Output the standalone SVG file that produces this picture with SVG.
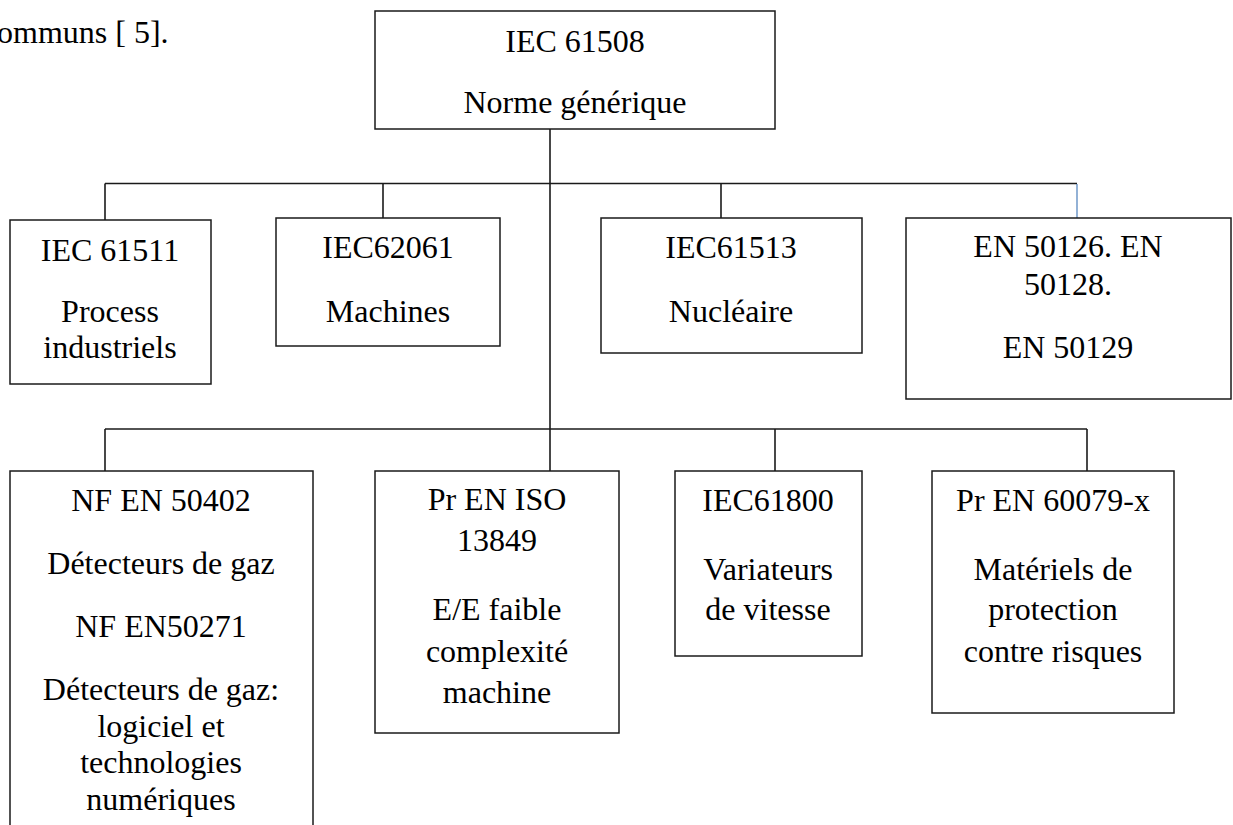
<svg xmlns="http://www.w3.org/2000/svg" width="1233" height="825" viewBox="0 0 1233 825">
  <style>
    .box { fill: #ffffff; stroke: #1a1a1a; stroke-width: 1.5; }
    .conn { stroke: #1a1a1a; stroke-width: 1.6; fill: none; }
    .blue { stroke: #4a7ebb; stroke-width: 1.2; fill: none; }
    text { font-family: "Liberation Serif", "Times New Roman", serif; font-size: 32px; fill: #000000; }
    .c { text-anchor: middle; }
  </style>
  <rect x="0" y="0" width="1233" height="825" fill="#ffffff"/>
  <text x="-3" y="43">ommuns [ 5].</text>

  <g id="connectors">
    <line class="conn" x1="550" y1="129" x2="550" y2="471"/>
    <line class="conn" x1="105" y1="183.5" x2="1077" y2="183.5"/>
    <line class="conn" x1="105" y1="183.5" x2="105" y2="220"/>
    <line class="conn" x1="383" y1="183.5" x2="383" y2="218"/>
    <line class="conn" x1="721" y1="183.5" x2="721" y2="218"/>
    <line class="blue" x1="1077" y1="184" x2="1077" y2="218"/>
    <line class="conn" x1="105" y1="429" x2="1087" y2="429"/>
    <line class="conn" x1="105" y1="429" x2="105" y2="471"/>
    <line class="conn" x1="775" y1="429" x2="775" y2="471"/>
    <line class="conn" x1="1087" y1="429" x2="1087" y2="471"/>
  </g>

  <g id="iec61508">
    <rect class="box" x="375" y="11" width="400" height="118"/>
    <text class="c" x="575" y="52">IEC 61508</text>
    <text class="c" x="575" y="113">Norme générique</text>
  </g>

  <g id="iec61511">
    <rect class="box" x="10" y="220" width="201" height="164"/>
    <text class="c" x="110" y="261">IEC 61511</text>
    <text class="c" x="110" y="322">Process</text>
    <text class="c" x="110" y="358">industriels</text>
  </g>

  <g id="iec62061">
    <rect class="box" x="276" y="218" width="224" height="128"/>
    <text class="c" x="388" y="258">IEC62061</text>
    <text class="c" x="388" y="322">Machines</text>
  </g>

  <g id="iec61513">
    <rect class="box" x="601" y="218" width="261" height="135"/>
    <text class="c" x="731" y="258">IEC61513</text>
    <text class="c" x="731" y="322">Nucléaire</text>
  </g>

  <g id="en50126">
    <rect class="box" x="906" y="218" width="325" height="181"/>
    <text class="c" x="1068" y="257">EN 50126. EN</text>
    <text class="c" x="1068" y="295">50128.</text>
    <text class="c" x="1068" y="358">EN 50129</text>
  </g>

  <g id="nfen50402">
    <rect class="box" x="10" y="471" width="303" height="370"/>
    <text class="c" x="161" y="511">NF EN 50402</text>
    <text class="c" x="161" y="574">Détecteurs de gaz</text>
    <text class="c" x="161" y="637">NF EN50271</text>
    <text class="c" x="161" y="700">Détecteurs de gaz:</text>
    <text class="c" x="161" y="737">logiciel et</text>
    <text class="c" x="161" y="773">technologies</text>
    <text class="c" x="161" y="810">numériques</text>
  </g>

  <g id="prenISO13849">
    <rect class="box" x="375" y="471" width="244" height="262"/>
    <text class="c" x="497" y="510">Pr EN ISO</text>
    <text class="c" x="497" y="551">13849</text>
    <text class="c" x="497" y="620">E/E faible</text>
    <text class="c" x="497" y="662">complexité</text>
    <text class="c" x="497" y="703">machine</text>
  </g>

  <g id="iec61800">
    <rect class="box" x="675" y="471" width="187" height="185"/>
    <text class="c" x="768" y="511">IEC61800</text>
    <text class="c" x="768" y="580">Variateurs</text>
    <text class="c" x="768" y="620">de vitesse</text>
  </g>

  <g id="pren60079">
    <rect class="box" x="932" y="471" width="242" height="242"/>
    <text class="c" x="1053" y="511">Pr EN 60079-x</text>
    <text class="c" x="1053" y="580">Matériels de</text>
    <text class="c" x="1053" y="620">protection</text>
    <text class="c" x="1053" y="662">contre risques</text>
  </g>
</svg>
